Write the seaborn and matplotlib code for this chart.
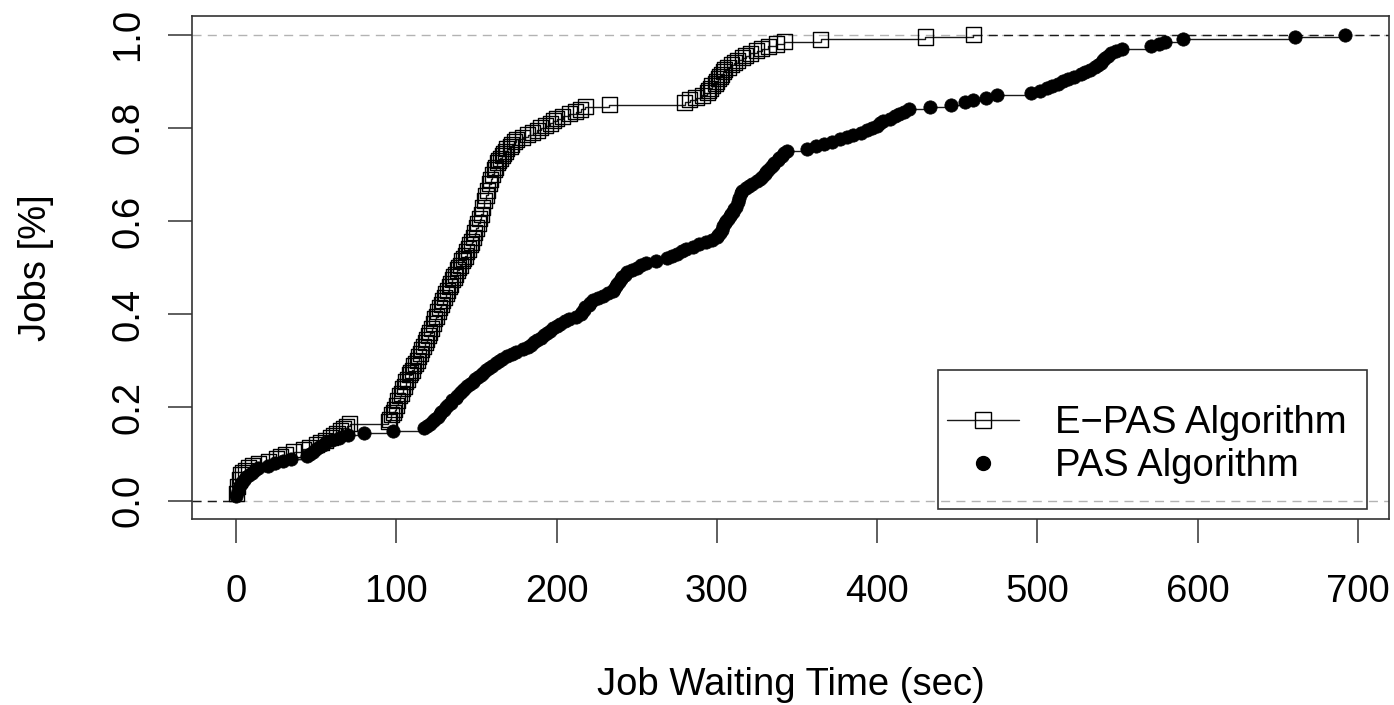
import numpy as np
import matplotlib
matplotlib.use("Agg")
import matplotlib.pyplot as plt
import seaborn as sns
from matplotlib.lines import Line2D
from matplotlib.patches import Rectangle

# Job waiting times (seconds), one entry per job
epas_wait = [
    0, 0, 0, 1, 1, 1, 2, 2, 2, 3, 3, 4,
    6, 8, 10, 14, 20, 25, 28, 31, 36, 42, 46, 50, 53, 56,
    59, 61, 63, 65, 67, 69, 71, 95,
    96, 97, 97, 98, 99, 100,
    100, 101, 101, 102, 102, 103, 104, 104,
    105, 106, 106, 107, 108, 108, 109, 110,
    111, 111, 112, 113, 114, 114, 115, 116,
    116, 117, 118, 118, 119, 120, 120, 121,
    122, 122, 123, 123, 124, 124, 125, 126, 126, 127, 127, 128,
    129, 129, 130, 131, 131, 132, 133, 133, 134, 135, 135, 136,
    137, 138, 138, 139, 140, 141, 141, 142, 143, 144, 144, 145, 146, 146, 147, 148,
    148, 149, 149, 150, 150, 151, 151, 152, 152, 153, 153, 154, 154, 154, 155, 155,
    155, 156, 156, 157, 157, 158, 158, 158, 159, 159, 160, 160,
    161, 161, 162, 163, 163, 164, 165, 166, 167, 168,
    169, 171, 172, 174, 175, 179, 182, 185, 188, 190,
    193, 196, 198, 200, 204, 208, 212, 215, 218, 233,
    280, 283, 287, 291,
    294, 295, 296, 297, 299, 300,
    301, 302, 303, 304, 305, 307,
    309, 311, 313, 316, 318,
    321, 325, 328, 332, 337, 342,
    365, 430, 460,
]

pas_wait = [
    0, 0, 1, 1, 2, 2,
    3, 4, 5, 6, 8, 10, 12, 14,
    20, 24, 29, 34,
    44, 46, 48, 50, 52, 54, 56,
    60, 64, 70, 80, 98, 117, 119,
    121, 123, 124, 126, 127, 128, 130, 131, 132, 134,
    135, 137, 138, 140, 141, 142, 144,
    146, 148, 149, 151, 153, 154, 156,
    158, 160, 162, 164, 166, 169,
    172, 175, 179, 182, 184, 186, 188, 190,
    192, 194, 196, 198, 200, 202,
    205, 208, 212, 215,
    216, 217, 218, 220, 221, 223,
    226, 229, 232, 235,
    236, 237, 238, 239, 240, 241, 243, 244,
    247, 250, 253, 256, 262, 269,
    272, 275, 278, 281, 285,
    289, 293, 297, 300,
    301, 302, 303, 304, 304, 305, 306,
    307, 308, 309, 310, 311, 312,
    313, 313, 314, 314, 315, 315, 316,
    318, 320, 322, 325, 327,
    328, 330, 331, 332, 334, 335,
    336, 338, 339, 341, 342, 344,
    356, 362, 367, 372,
    377, 381, 385, 390,
    394, 397, 400, 402, 404,
    408, 411, 414, 417, 420,
    433, 446, 455, 460, 468, 475,
    496, 502, 506, 509,
    513, 516, 519, 523,
    527, 530, 533, 536,
    538, 540, 541, 542, 544, 546,
    549, 553, 571, 576, 580, 591,
    661, 692,
]

series_names = ["E\u2212PAS Algorithm", "PAS Algorithm"]
x_ticks = [0, 100, 200, 300, 400, 500, 600, 700]
y_ticks = [0.0, 0.2, 0.4, 0.6, 0.8, 1.0]
y_tick_labels = ["0.0", "0.2", "0.4", "0.6", "0.8", "1.0"]
x_title = "Job Waiting Time (sec)"
y_title = "Jobs [%]"

sns.set_style("white")
plt.rcParams["font.family"] = ["Liberation Sans", "DejaVu Sans"]
plt.rcParams["text.color"] = "black"
plt.rcParams["axes.labelcolor"] = "black"

FS = 27.5
INK = "#1a1a1a"
FRAME = "#333333"


def ecdf_points(values):
    v = np.sort(np.asarray(values, dtype=float))
    ux, cnt = np.unique(v, return_counts=True)
    return ux, np.cumsum(cnt) / len(v)


fig = plt.figure(figsize=(13.94, 7.05), dpi=100)
ax = fig.add_axes([0.13752, 0.26340, 0.85911, 0.71390])

all_vals = np.r_[epas_wait, pas_wait]
lo, hi = all_vals.min(), all_vals.max()
pad = 0.04 * (hi - lo)
xlim = (lo - pad, hi + pad)
ylim = (-0.04, 1.04)

# reference lines at 0 and 1
dash = (0, (6.5, 4.5))
for yv in (0.0, 1.0):
    ax.axhline(yv, color="#b3b3b3", lw=1.0, ls=dash, zorder=1)

# E-PAS: step line + open squares
sns.ecdfplot(x=epas_wait, ax=ax, color=INK, lw=1.0, zorder=2)
ex, ey = ecdf_points(epas_wait)
sns.scatterplot(x=ex, y=ey, ax=ax, marker="s", s=118, linewidth=1.0, zorder=3)
sq = ax.collections[-1]
sq.set_facecolor("none")
sq.set_edgecolor("black")

# PAS: step line + filled dots
sns.ecdfplot(x=pas_wait, ax=ax, color=INK, lw=1.0, zorder=4)
px_, py_ = ecdf_points(pas_wait)
sns.scatterplot(x=px_, y=py_, ax=ax, marker="o", s=92, color="black",
                edgecolor="black", linewidth=0.5, zorder=5)

# unbounded ends of the step functions
ax.plot([xlim[0], min(ex[0], px_[0])], [0, 0], color=INK, lw=1.0, ls=dash, zorder=2)
ax.plot([ex[-1], xlim[1]], [1, 1], color=INK, lw=1.0, ls=dash, zorder=2)

ax.set_xlim(*xlim)
ax.set_ylim(*ylim)
ax.set_xticks(x_ticks)
ax.set_xticklabels([str(t) for t in x_ticks])
ax.set_yticks(y_ticks)
ax.set_yticklabels(y_tick_labels)
for lab in ax.get_yticklabels():
    lab.set_rotation(90)
    lab.set_va("center")

ax.tick_params(axis="both", direction="out", length=17.5, width=1.1,
               color=FRAME, labelsize=FS, labelcolor="black")
ax.tick_params(axis="x", pad=22)
ax.tick_params(axis="y", pad=15)
ax.tick_params(left=True, bottom=True)

for sp in ax.spines.values():
    sp.set_visible(True)
    sp.set_color(FRAME)
    sp.set_linewidth(1.2)

ax.set_xlabel(x_title, fontsize=FS, color="black")
ax.set_ylabel(y_title, fontsize=FS, color="black")
ax.xaxis.label.set_va("center")
ax.yaxis.label.set_va("center")
ax.xaxis.set_label_coords(0.5, -0.329)
ax.yaxis.set_label_coords(-0.130, 0.5)

# legend
h1 = Line2D([], [], color=INK, lw=1.0, marker="s", ms=11, mfc="none",
            mec="black", mew=1.0)
h2 = Line2D([], [], ls="none", marker="o", ms=10, color="black")
leg = ax.legend([h1, h2], series_names, loc="upper left",
                bbox_to_anchor=(947 / 1394, 1 - 405 / 705),
                bbox_transform=fig.transFigure, frameon=False, borderpad=0,
                handlelength=1.89, handletextpad=0.94, labelspacing=0.18,
                fontsize=FS, borderaxespad=0)
for t in leg.get_texts():
    t.set_color("black")
box = Rectangle((938 / 1394, 1 - 509 / 705), (1367 - 938) / 1394,
                (509 - 370) / 705, transform=fig.transFigure, fill=False,
                ec=FRAME, lw=1.2, zorder=6)
fig.add_artist(box)

fig.savefig("out.png", dpi=100)
